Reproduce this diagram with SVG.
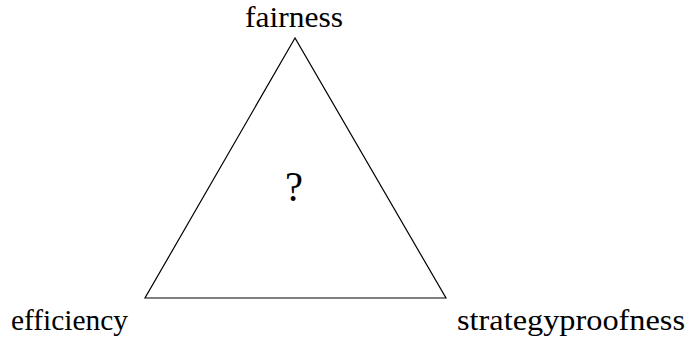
<svg xmlns="http://www.w3.org/2000/svg" width="687" height="345" viewBox="0 0 687 345">
<style>
.t{font-family:'Liberation Serif','Times New Roman',Times,serif;fill:#000}
.lbl{font-size:30px}
.edge{fill:none;stroke:#000;stroke-width:1.2}
</style>
<rect width="687" height="345" fill="#fff"/>
<g id="connectors">
<path class="edge" d="M295,38 L145,298 L446,298 Z"/>
</g>
<g id="node-fairness"><text class="t lbl" font-family="Liberation Serif, serif" x="245" y="27" textLength="98" lengthAdjust="spacingAndGlyphs">fairness</text></g>
<g id="node-efficiency"><text class="t lbl" font-family="Liberation Serif, serif" x="11" y="330" textLength="117" lengthAdjust="spacingAndGlyphs">efficiency</text></g>
<g id="node-strategyproofness"><text class="t lbl" font-family="Liberation Serif, serif" x="457" y="330" textLength="228" lengthAdjust="spacingAndGlyphs">strategyproofness</text></g>
<g id="node-question"><text class="t" font-family="Liberation Serif, serif" x="285" y="201" font-size="42" textLength="18" lengthAdjust="spacingAndGlyphs">?</text></g>
</svg>
